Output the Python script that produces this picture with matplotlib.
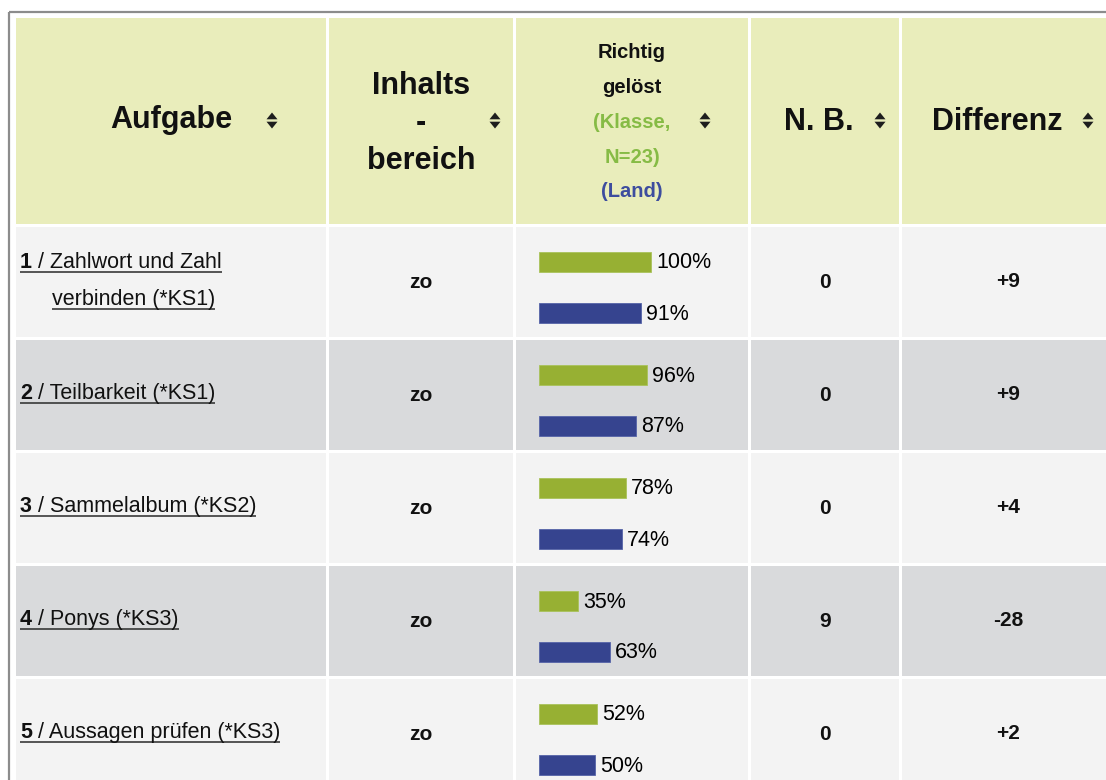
import matplotlib
matplotlib.use("Agg")
import matplotlib.pyplot as plt
from matplotlib.patches import Rectangle

plt.rcParams["font.family"] = ["Liberation Sans", "DejaVu Sans"]

# data
task_numbers = ["1", "2", "3", "4", "5"]
task_names = ["Zahlwort und Zahl\nverbinden (*KS1)", "Teilbarkeit (*KS1)",
              "Sammelalbum (*KS2)", "Ponys (*KS3)", "Aussagen prüfen (*KS3)"]
bereich = ["zo", "zo", "zo", "zo", "zo"]
klasse = [100, 96, 78, 35, 52]
land = [91, 87, 74, 63, 50]
nb = [0, 0, 0, 9, 0]
differenz = ["+9", "+9", "+4", "-28", "+2"]

# layout (pixels)
W, H = 1106, 780
col_left = [16, 329, 516, 751, 902]
col_right = [326, 513, 748, 899, 1112]
header_top, header_bot = 18, 224
row_top0, row_step, row_h = 227, 113, 110
bar_left, bar_scale, bar_h = 539, 1.12, 20

header_bg = "#e9edbb"
row_bg = ["#f3f3f3", "#d9dadc"]
green = "#97b033"
blue = "#36448f"

fig = plt.figure(figsize=(W / 100, H / 100), dpi=100)
ax = fig.add_axes([0, 0, 1, 1])
ax.set_xlim(0, W)
ax.set_ylim(H, 0)
ax.axis("off")

# outer frame
ax.plot([9, 9], [12, H], color="#8c8c8c", lw=1.6, solid_capstyle="butt")
ax.plot([9, W], [12, 12], color="#8c8c8c", lw=1.6, solid_capstyle="butt")

# header cells
for l, r in zip(col_left, col_right):
    ax.add_patch(Rectangle((l, header_top), r - l, header_bot - header_top,
                           color=header_bg, lw=0))

row_tops = [row_top0 + i * row_step for i in range(len(klasse))]
for i, t in enumerate(row_tops):
    for l, r in zip(col_left, col_right):
        ax.add_patch(Rectangle((l, t), r - l, row_h, color=row_bg[i % 2], lw=0))


def sort_icon(x, y=120.5):
    # small up / down arrows like the table sorter
    ax.fill([x - 5.5, x + 5.5, x], [y - 1.2, y - 1.2, y - 8], color="#1e1e1e", lw=0)
    ax.fill([x - 5.5, x + 5.5, x], [y + 1.2, y + 1.2, y + 8], color="#1e1e1e", lw=0)


big = dict(fontsize=22, fontweight="bold", ha="center", va="baseline", color="#111111")
ax.text(171, 128, "Aufgabe", **big)
sort_icon(272)
ax.text(421, 94, "Inhalts", **big)
ax.text(421, 131, "-", **big)
ax.text(421, 169, "bereich", **big)
sort_icon(495)
small = dict(fontsize=14.5, fontweight="bold", ha="center", va="baseline")
ax.text(632, 58, "Richtig", color="#111111", **small)
ax.text(632, 93, "gelöst", color="#111111", **small)
ax.text(632, 128, "(Klasse,", color="#86bb45", **small)
ax.text(632, 163, "N=23)", color="#86bb45", **small)
ax.text(632, 197, "(Land)", color="#3d4d9e", **small)
sort_icon(705)
ax.text(819, 130, "N. B.", **big)
sort_icon(880)
ax.text(997, 130, "Differenz", **big)
sort_icon(1088)

# task column with underlined links
fig.canvas.draw()
renderer = fig.canvas.get_renderer()
inv = ax.transData.inverted()


def right_edge(txt):
    bb = txt.get_window_extent(renderer)
    return inv.transform((bb.x1, bb.y0))[0]


def underline(x0, x1, y):
    ax.plot([x0, x1], [y, y], color="#2a2a2a", lw=1.1, solid_capstyle="butt")


for i, t in enumerate(row_tops):
    center = t + row_h / 2
    lines = task_names[i].split("\n")
    if len(lines) == 1:
        base = [center + 4]
    else:
        base = [center - 14, center + 23]
    tn = ax.text(20, base[0], task_numbers[i], fontsize=15.5, fontweight="bold",
                 va="baseline", color="#111111")
    x_end = right_edge(tn)
    tr = ax.text(x_end, base[0], " / " + lines[0], fontsize=15.5,
                 va="baseline", color="#111111")
    underline(20, right_edge(tr), base[0] + 3.5)
    if len(lines) > 1:
        t2 = ax.text(52, base[1], lines[1], fontsize=15.5, va="baseline", color="#111111")
        underline(52, right_edge(t2), base[1] + 3.5)

    ax.text(421, center + 6, bereich[i], fontsize=15, fontweight="bold",
            ha="center", va="baseline", color="#111111")
    ax.text(825, center + 6, str(nb[i]), fontsize=15, fontweight="bold",
            ha="center", va="baseline", color="#111111")
    ax.text(1008, center + 5, differenz[i], fontsize=15, fontweight="bold",
            ha="center", va="baseline", color="#111111")

# bars
green_y = [t + 35 for t in row_tops]
blue_y = [t + 86 for t in row_tops]
ax.barh(green_y, [v * bar_scale for v in klasse], left=bar_left, height=bar_h,
        color=green, edgecolor="#a9c25a", lw=0.6)
ax.barh(blue_y, [v * bar_scale for v in land], left=bar_left, height=bar_h,
        color=blue, edgecolor="#5563a8", lw=0.6)
for y, v in zip(green_y, klasse):
    ax.text(bar_left + v * bar_scale + 5, y + 1, f"{v}%", fontsize=15.5,
            fontweight="medium", va="center", color="#000000")
for y, v in zip(blue_y, land):
    ax.text(bar_left + v * bar_scale + 5, y + 1, f"{v}%", fontsize=15.5,
            fontweight="medium", va="center", color="#000000")

fig.savefig("out.png", dpi=100)
